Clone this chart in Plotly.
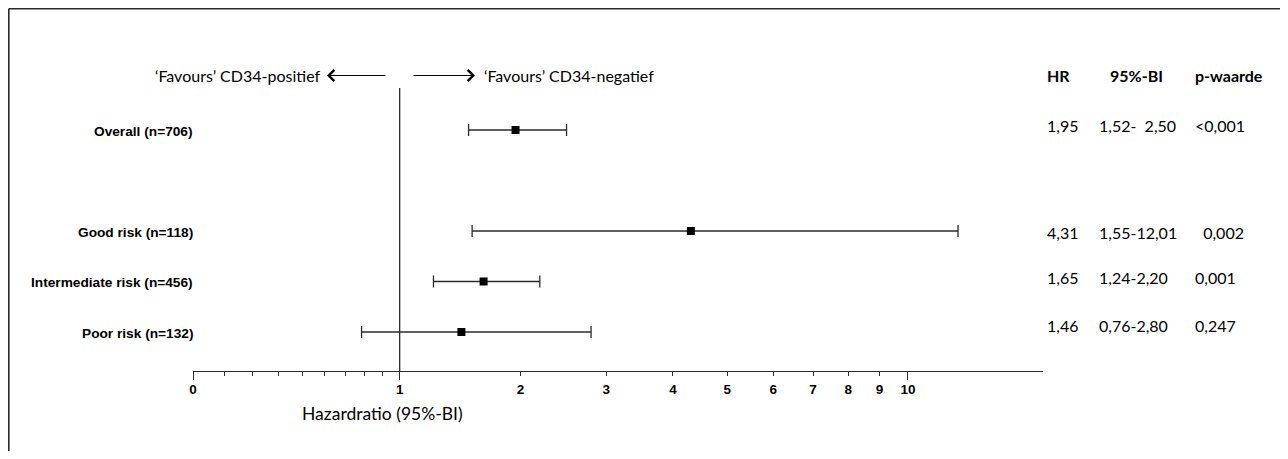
import numpy as np
import plotly.graph_objects as go

# ---------------- data ----------------
groups = ["Overall (n=706)", "Good risk (n=118)", "Intermediate risk (n=456)", "Poor risk (n=132)"]
hr = [1.95, 4.31, 1.65, 1.46]
ci_low = [1.52, 1.55, 1.24, 0.76]
ci_high = [2.50, 12.01, 2.20, 2.80]
hr_text = ["1,95", "4,31", "1,65", "1,46"]
ci_text = ["1,52-\u00a0\u00a02,50", "1,55-12,01", "1,24-2,20", "0,76-2,80"]
p_text = ["<0,001", "\u00a0\u00a00,002", "0,001", "0,247"]
tick_values = [0, 1, 2, 3, 4, 5, 6, 7, 8, 9, 10]
tick_labels = ["0", "1", "2", "3", "4", "5", "6", "7", "8", "9", "10"]
minor_tick_values = [1 / 9, 2 / 9, 3 / 9, 4 / 9, 5 / 9, 6 / 9, 7 / 9, 8 / 9]
long_tick_values = [0, 1, 10]
x_max = 16.3
ref_value = 1

# row slots (gap after "Overall")
row_y = [0, 2, 3, 4]


def f(v):
    """axis transform used by the original chart: log10(1 + HR)"""
    return np.log10(1 + np.asarray(v, dtype=float))


# ---------------- layout geometry ----------------
# targets are given in page pixels; the page body adds an 8 px margin
OFF = 8
W_FIG, H_FIG = 1272, 443
L, R, T, B = 193 - OFF, 1043 - OFF, 88 - OFF, 371 - OFF
PW, PH = R - L, B - T
PX_PER_ROW = 50.5
ROW0 = 130 - OFF
Y_TOP = -(ROW0 - T) / PX_PER_ROW
Y_BOT = (B - ROW0) / PX_PER_ROW


def px(x):
    """page pixel x -> paper coordinate"""
    return (x - OFF - L) / PW


def py(y):
    """page pixel y -> paper coordinate"""
    return (B - (y - OFF)) / PH


LINE = "#2b2b2b"
CAL = "Lato, Carlito, Calibri, sans-serif"
ARIAL = "Liberation Sans, Arial, sans-serif"

fig = go.Figure()

xh = f(hr)
fig.add_trace(go.Scatter(
    x=xh, y=row_y, mode="markers",
    marker=dict(symbol="square", size=8, color="black"),
    error_x=dict(type="data", symmetric=False,
                 array=f(ci_high) - xh, arrayminus=xh - f(ci_low),
                 color=LINE, thickness=1.3, width=6),
    hoverinfo="skip", showlegend=False,
))
# invisible trace to activate overlay axis for the long ticks
fig.add_trace(go.Scatter(x=f(long_tick_values), y=[row_y[0]] * 3, mode="markers",
                         marker=dict(opacity=0), xaxis="x2", hoverinfo="skip",
                         showlegend=False))

fig.update_layout(
    width=W_FIG, height=H_FIG,
    margin=dict(l=L, r=W_FIG - R, t=T, b=H_FIG - B, pad=0),
    paper_bgcolor="white", plot_bgcolor="white",
    xaxis=dict(
        range=[f(0), f(x_max)], showgrid=False, zeroline=False,
        showline=True, linecolor=LINE, linewidth=1.3,
        ticks="outside", ticklen=4, tickwidth=1.3, tickcolor=LINE,
        tickvals=f(tick_values), ticktext=tick_labels,
        tickfont=dict(family=ARIAL, size=13.5, color="black", weight="bold"),
        ticklabelstandoff=2,
        minor=dict(tickvals=f(minor_tick_values), ticks="outside", ticklen=4,
                   tickwidth=1.3, tickcolor=LINE, showgrid=False),
    ),
    xaxis2=dict(
        range=[f(0), f(x_max)], overlaying="x", anchor="y", side="bottom",
        showgrid=False, zeroline=False, showline=False,
        ticks="outside", ticklen=8, tickwidth=1.3, tickcolor=LINE,
        tickvals=f(long_tick_values), showticklabels=False,
    ),
    yaxis=dict(range=[Y_BOT, Y_TOP], visible=False, showgrid=False, zeroline=False),
)

# reference line at HR = 1
fig.add_shape(type="line", xref="x", yref="paper",
              x0=float(f(ref_value)), x1=float(f(ref_value)), y0=0, y1=1,
              line=dict(color=LINE, width=1.3))

# outer frame (top and left edges)
fig.add_shape(type="line", xref="paper", yref="paper",
              x0=px(8.8), x1=px(1300), y0=py(8.8), y1=py(8.8),
              line=dict(color=LINE, width=1.6))
fig.add_shape(type="line", xref="paper", yref="paper",
              x0=px(8.8), x1=px(8.8), y0=py(8.8), y1=py(470),
              line=dict(color=LINE, width=1.6))

ann = []
# group labels
for g, yv in zip(groups, row_y):
    ann.append(dict(text=g, x=px(195), xref="paper", y=yv, yref="y",
                    xanchor="right", yanchor="middle", showarrow=False, yshift=-1,
                    font=dict(family=ARIAL, size=13.7, color="black", weight="bold")))

# header favours texts + arrows
HY = 75.5
ann.append(dict(text="\u2018Favours\u2019 CD34-positief", x=px(323), y=py(HY),
                xref="paper", yref="paper", xanchor="right", yanchor="middle",
                showarrow=False, font=dict(family=CAL, size=16, color="black")))
ann.append(dict(text="\u2018Favours\u2019 CD34-negatief", x=px(482), y=py(HY),
                xref="paper", yref="paper", xanchor="left", yanchor="middle",
                showarrow=False, font=dict(family=CAL, size=16, color="black")))
ann.append(dict(text="", x=px(327), y=py(HY), xref="paper", yref="paper",
                ax=60, ay=0, axref="pixel", ayref="pixel", showarrow=True,
                arrowhead=4, arrowsize=1.8, arrowwidth=1.2, arrowcolor="black",
                standoff=0, startstandoff=0))
ann.append(dict(text="", x=px(475), y=py(HY), xref="paper", yref="paper",
                ax=-63, ay=0, axref="pixel", ayref="pixel", showarrow=True,
                arrowhead=4, arrowsize=1.8, arrowwidth=1.2, arrowcolor="black",
                standoff=0, startstandoff=0))

# right-hand table
hdr_font = dict(family=CAL, size=16, color="black", weight="bold")
val_font = dict(family=CAL, size=16, color="black")
ann.append(dict(text="HR", x=px(1045), y=py(HY), xref="paper", yref="paper",
                xanchor="left", yanchor="middle", showarrow=False, font=hdr_font))
ann.append(dict(text="95%-BI", x=px(1108), y=py(HY), xref="paper", yref="paper",
                xanchor="left", yanchor="middle", showarrow=False, font=hdr_font))
ann.append(dict(text="p-waarde", x=px(1193), y=py(HY), xref="paper", yref="paper",
                xanchor="left", yanchor="middle", showarrow=False, font=hdr_font))
row_shift = [5, -1, 4, 7]
for i, yv in enumerate(row_y):
    for txt, xpix in ((hr_text[i], 1045), (ci_text[i], 1097), (p_text[i], 1193)):
        ann.append(dict(text=txt, x=px(xpix), xref="paper", y=yv, yref="y",
                        xanchor="left", yanchor="middle", showarrow=False,
                        yshift=row_shift[i], font=val_font))

# axis title
ann.append(dict(text="Hazardratio (95%-BI)", x=px(300), y=py(413), xref="paper",
                yref="paper", xanchor="left", yanchor="middle", showarrow=False,
                font=dict(family=CAL, size=17.5, color="black")))

fig.update_layout(annotations=ann)
fig.write_html("out.html")
